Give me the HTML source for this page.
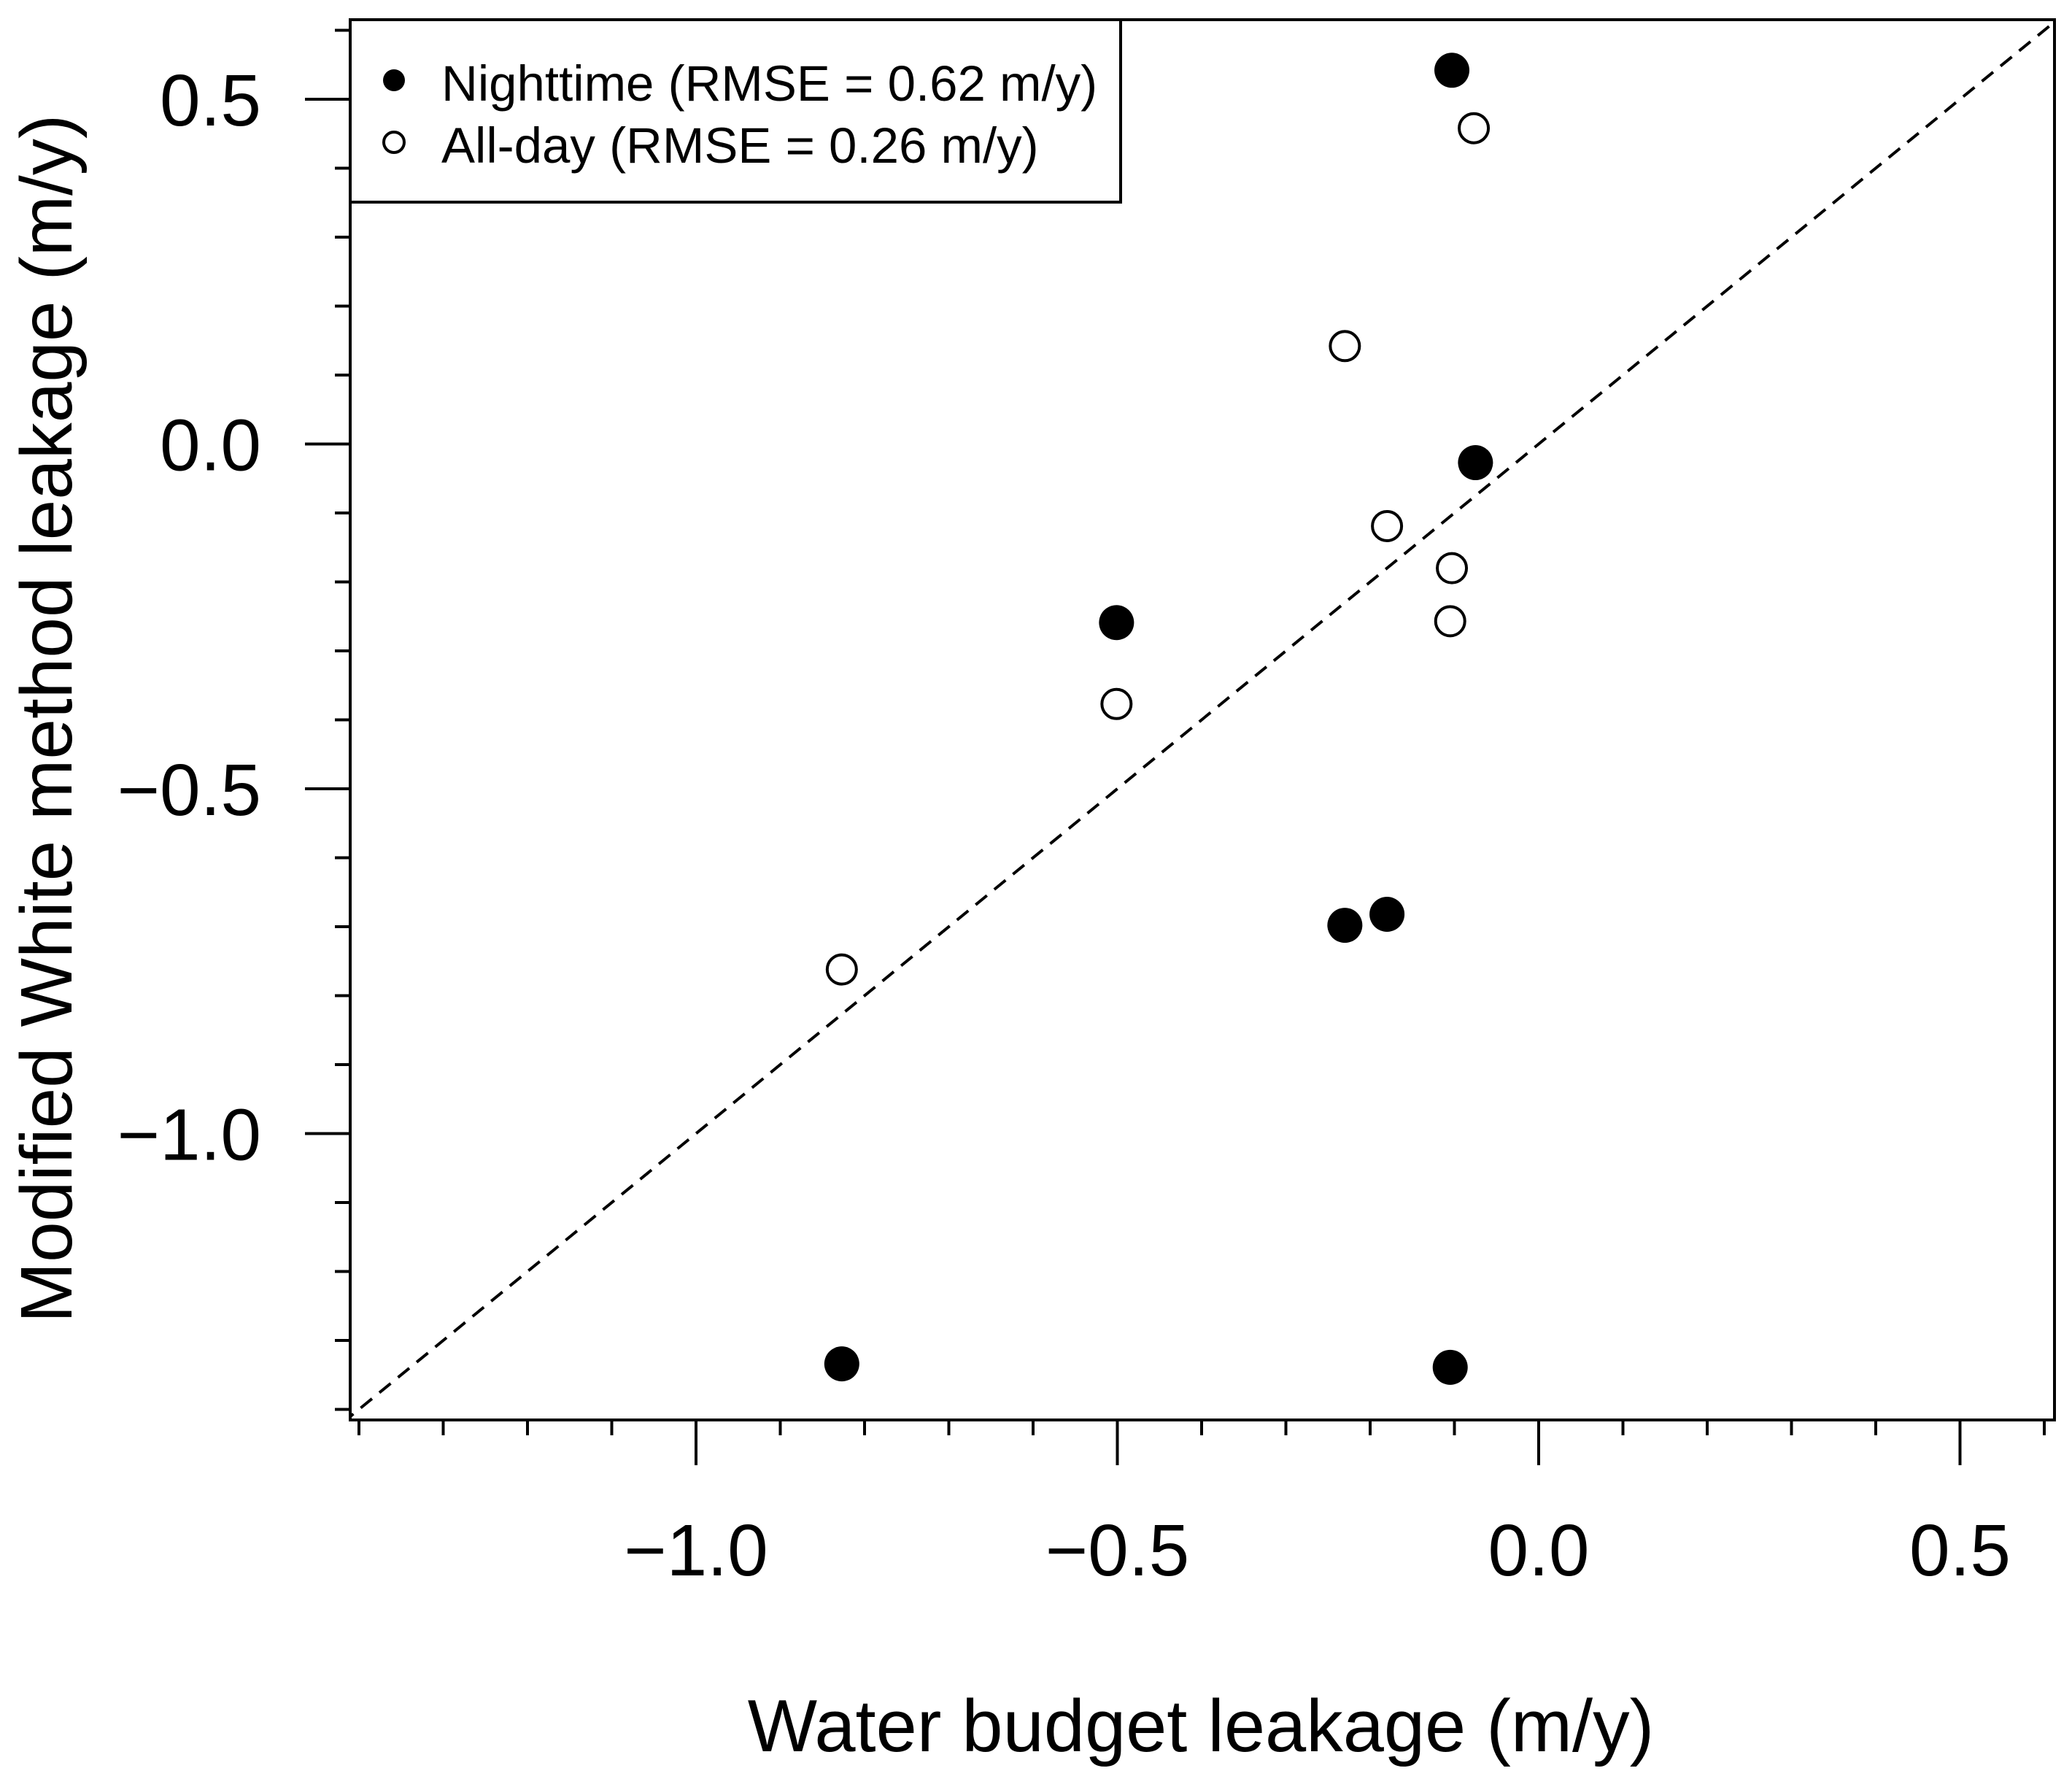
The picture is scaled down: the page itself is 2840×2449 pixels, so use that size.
<!DOCTYPE html>
<html><head><meta charset="utf-8"><style>
html,body{margin:0;padding:0;background:#fff}
svg text{font-family:"Liberation Sans",Arial,sans-serif;fill:#000}
</style></head><body>
<svg id="chart" width="2840" height="2444" viewBox="0 0 2840 2444" xmlns="http://www.w3.org/2000/svg">
<g id="plot"></g>
</svg>
<script>
const nightX=[-0.103,-0.075,-0.501,-0.23,-0.18,-0.827,-0.105];
const nightY=[0.542,-0.027,-0.259,-0.698,-0.682,-1.334,-1.339];
const allX=[-0.077,-0.23,-0.18,-0.103,-0.105,-0.501,-0.827];
const allY=[0.458,0.142,-0.119,-0.180,-0.257,-0.377,-0.762];
const majorTicks=[-1.0,-0.5,0.0,0.5];
const majorLabels=["\u22121.0","\u22120.5","0.0","0.5"];
const minorTicks=[-1.4,-1.3,-1.2,-1.1,-1.0,-0.9,-0.8,-0.7,-0.6,-0.5,-0.4,-0.3,-0.2,-0.1,0.0,0.1,0.2,0.3,0.4,0.5,0.6];

const NS="http://www.w3.org/2000/svg";
const X0=2109,XS=1155,Y0=608.5,YS=945;
const L=480,R=2816,T=27,B=1946;
function sx(v){return X0+v*XS;}
function sy(v){return Y0-v*YS;}
const g=document.getElementById('plot');
function mk(tag,attrs,parent){const e=document.createElementNS(NS,tag);for(const k in attrs)e.setAttribute(k,attrs[k]);(parent||g).appendChild(e);return e;}

const defs=mk('defs',{});
const cp=mk('clipPath',{id:'clip'},defs);
mk('rect',{x:L,y:T,width:R-L,height:B-T},cp);

const lo=-1.42,hi=0.62;
const diag=mk('line',{x1:sx(lo),y1:sy(lo),x2:sx(hi),y2:sy(hi),stroke:'#000','stroke-width':4,'stroke-dasharray':'20 13','clip-path':'url(#clip)'});



const frame=mk('rect',{x:L,y:T,width:R-L,height:B-T,fill:'none',stroke:'#000','stroke-width':4});



minorTicks.forEach(v=>{
  const t1=mk('line',{x1:sx(v),y1:B,x2:sx(v),y2:B+21,stroke:'#000','stroke-width':4});
  
  
  const t2=mk('line',{x1:L,y1:sy(v),x2:L-21,y2:sy(v),stroke:'#000','stroke-width':4});
  
  
});
majorTicks.forEach((v,i)=>{
  const t1=mk('line',{x1:sx(v),y1:B,x2:sx(v),y2:B+62,stroke:'#000','stroke-width':4});
  
  
  const t2=mk('line',{x1:L,y1:sy(v),x2:L-62,y2:sy(v),stroke:'#000','stroke-width':4});
  
  
  const xl=mk('text',{x:sx(v),y:2159,'text-anchor':'middle','font-size':100});
  xl.textContent=majorLabels[i];
  
  
  const yl=mk('text',{x:358,y:sy(v)+36,'text-anchor':'end','font-size':100});
  yl.textContent=majorLabels[i];
  
  
});

allX.forEach((x,i)=>{
  const c=mk('circle',{cx:sx(x),cy:sy(allY[i]),r:20,fill:'#fff',stroke:'#000','stroke-width':4});
  
  
});
nightX.forEach((x,i)=>{
  const c=mk('circle',{cx:sx(x),cy:sy(nightY[i]),r:24,fill:'#000'});
  
  
});

const lg=mk('g',{});


mk('rect',{x:L,y:T,width:1536-L,height:277-T,fill:'#fff',stroke:'#000','stroke-width':4},lg);
const e1=mk('circle',{cx:540,cy:110,r:15,fill:'#000'},lg);


const t1=mk('text',{x:605,y:138,'font-size':69},lg);
t1.textContent='Nighttime (RMSE = 0.62 m/y)';


const e2=mk('circle',{cx:540,cy:195,r:14,fill:'#fff',stroke:'#000','stroke-width':4},lg);


const t2=mk('text',{x:605,y:223,'font-size':69},lg);
t2.textContent='All-day (RMSE = 0.26 m/y)';



const xt=mk('text',{x:1646,y:2400,'text-anchor':'middle','font-size':101});
xt.textContent='Water budget leakage (m/y)';


const yt=mk('text',{x:0,y:0,'text-anchor':'middle','font-size':100,transform:'translate(98,985) rotate(-90)'});
yt.textContent='Modified White method leakage (m/y)';


</script>
</body></html>
